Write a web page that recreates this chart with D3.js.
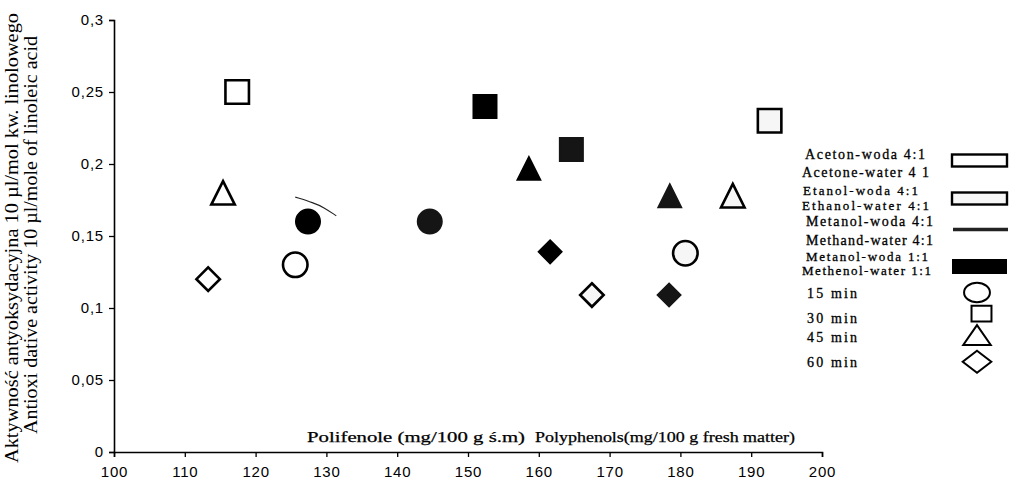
<!DOCTYPE html>
<html>
<head>
<meta charset="utf-8">
<script src="https://cdn.jsdelivr.net/npm/d3@7"></script>
<style>
  html, body { margin: 0; padding: 0; background: #fff; }
  svg { display: block; }
</style>
</head>
<body>
<svg id="chart" width="1010" height="486"></svg>
<script>
// solvents and extraction times
const solvents = ['acetone', 'ethanol', 'meth41', 'meth11']
const times = ['15 min', '30 min', '45 min', '60 min']

// polyphenols (x) and antioxidative activity (y), order: 15, 30, 45, 60 min
const acetoneX = [125.6, 117.4, 115.4, 113.3]
const acetoneY = [0.13, 0.25, 0.18, 0.12]
const ethanolX = [180.7, 192.6, 187.4, 167.5]
const ethanolY = [0.138, 0.23, 0.178, 0.109]
const meth41X = [144.6, 164.6, 178.5, 178.4]
const meth41Y = [0.16, 0.21, 0.178, 0.109]
const meth11X = [127.4, 152.4, 158.6, 161.6]
const meth11Y = [0.16, 0.24, 0.197, 0.139]

const xTicks = [100, 110, 120, 130, 140, 150, 160, 170, 180, 190, 200]
const yTicks = [0, 0.05, 0.1, 0.15, 0.2, 0.25, 0.3]

// stray pen stroke on the scanned original
const strokeX = [125.6, 128.2, 129.6, 131.4]
const strokeY = [0.177, 0.173, 0.170, 0.164]

const legendSolvents = [
  ['Aceton-woda 4:1', 'Acetone-water 4 1'],
  ['Etanol-woda 4:1', 'Ethanol-water 4:1'],
  ['Metanol-woda 4:1', 'Methand-water 4:1'],
  ['Metanol-woda 1:1', 'Methenol-water 1:1']
]

const seriesX = { acetone: acetoneX, ethanol: ethanolX, meth41: meth41X, meth11: meth11X }
const seriesY = { acetone: acetoneY, ethanol: ethanolY, meth41: meth41Y, meth11: meth11Y }

const fills = { acetone: '#fff', ethanol: '#f6f6f6', meth41: '#151515', meth11: '#000' }

const points = []
solvents.forEach(s => {
  times.forEach((t, i) => {
    points.push({ solvent: s, time: i, x: seriesX[s][i], y: seriesY[s][i] })
  })
})

const svg = d3.select('#chart')
svg.append('rect').attr('width', 1010).attr('height', 486).attr('fill', '#fff')

const x = d3.scaleLinear().domain([100, 200]).range([114, 822])
const y = d3.scaleLinear().domain([0, 0.3]).range([452, 20])

const tickFont = '"Liberation Sans", Arial, sans-serif'
const serif = '"Liberation Serif", "Times New Roman", serif'

// axes
const xAxis = svg.append('g')
  .attr('transform', `translate(0,${y(0)})`)
  .call(d3.axisBottom(x).tickValues(xTicks).tickSize(5).tickFormat(d3.format('d')))
const yAxis = svg.append('g')
  .attr('transform', `translate(${x(100)},0)`)
  .call(d3.axisLeft(y).tickValues(yTicks).tickSize(5)
    .tickFormat(d => d === 0 ? '0' : String(d).replace('.', ',')))

;[xAxis, yAxis].forEach(a => {
  a.select('.domain').attr('stroke', '#000').attr('stroke-width', 1.6)
  a.selectAll('.tick line').attr('stroke', '#000').attr('stroke-width', 1.3)
  a.selectAll('.tick text')
    .attr('font-family', tickFont)
    .attr('font-size', 15)
    .attr('letter-spacing', 0.8)
    .attr('fill', '#000')
})
xAxis.selectAll('.tick text').attr('dy', '0.71em').attr('y', 14)
yAxis.selectAll('.tick text').attr('x', -10)

// y-axis title, two lines
const yTitle = svg.append('g')
  .attr('font-family', serif)
  .attr('font-size', 18)
  .attr('fill', '#000')
  .attr('text-anchor', 'middle')
yTitle.append('text')
  .attr('transform', 'translate(18,238) rotate(-90)')
  .attr('textLength', 450)
  .attr('lengthAdjust', 'spacingAndGlyphs')
  .text('Aktywność antyoksydacyjna 10 µl/mol kw. linolowego')
yTitle.append('text')
  .attr('transform', 'translate(37,235) rotate(-90)')
  .attr('textLength', 398)
  .attr('lengthAdjust', 'spacingAndGlyphs')
  .text('Antioxi dative activity 10 µl/mole of linoleic acid')

// x-axis titles inside the plot
svg.append('text')
  .attr('x', 307).attr('y', 442)
  .attr('font-family', serif).attr('font-size', 14.5)
  .attr('stroke', '#000').attr('stroke-width', 0.25)
  .attr('textLength', 218).attr('lengthAdjust', 'spacingAndGlyphs')
  .text('Polifenole (mg/100 g ś.m)')
svg.append('text')
  .attr('x', 535).attr('y', 442)
  .attr('font-family', serif).attr('font-size', 14.5)
  .attr('stroke', '#000').attr('stroke-width', 0.25)
  .attr('textLength', 260).attr('lengthAdjust', 'spacingAndGlyphs')
  .text('Polyphenols(mg/100 g fresh matter)')

// marker shapes, centred on 0,0
function shapePath (t, s) {
  const h = s / 2
  if (t === 0) {
    return d3.arc()({ innerRadius: 0, outerRadius: h * 0.98, startAngle: 0, endAngle: 2 * Math.PI })
  }
  if (t === 1) return `M${-h},${-h}H${h}V${h}H${-h}Z`
  if (t === 2) return `M0,${-h}L${h},${h}H${-h}Z`
  return `M0,${-h}L${h},0L0,${h}L${-h},0Z`
}

svg.append('path')
  .datum(strokeX.map((d, i) => [d, strokeY[i]]))
  .attr('fill', 'none')
  .attr('stroke', '#222')
  .attr('stroke-width', 1.1)
  .attr('d', d3.line().x(d => x(d[0])).y(d => y(d[1])).curve(d3.curveBasis))

svg.append('g')
  .selectAll('path')
  .data(points)
  .join('path')
  .attr('transform', d => `translate(${x(d.x)},${y(d.y)})`)
  .attr('d', d => shapePath(d.time, d.time === 0 ? 25 : 23.5))
  .attr('fill', d => fills[d.solvent])
  .attr('stroke', d => d.solvent === 'meth41' ? '#151515' : '#000')
  .attr('stroke-width', d => d.solvent === 'meth11' || d.solvent === 'meth41' ? 1.5 : 2.6)
  .attr('stroke-linejoin', 'miter')

// legend
const legend = svg.append('g')
  .attr('font-family', serif)
  .attr('font-size', 14)
  .attr('fill', '#000')
  .attr('stroke', '#000')
  .attr('stroke-width', 0.3)

const legendTextY = [[159, 177], [195, 210], [226, 245], [261, 275]]
const legendTextX = [[805, 802], [803, 802], [806, 806], [806, 802]]
const legendTextW = [[120, 127], [115, 127], [127, 127], [122, 129]]
legendSolvents.forEach((pair, i) => {
  pair.forEach((label, j) => {
    legend.append('text')
      .attr('x', legendTextX[i][j])
      .attr('y', legendTextY[i][j])
      .attr('font-size', i === 1 || i === 3 ? 13 : 14)
      .attr('textLength', legendTextW[i][j])
      .attr('lengthAdjust', 'spacing')
      .text(label)
  })
})

const swatchY = [160.5, 198.5, 229.5, 266.5]
solvents.forEach((s, i) => {
  if (s === 'meth41') {
    legend.append('line')
      .attr('x1', 953).attr('x2', 1008)
      .attr('y1', swatchY[i]).attr('y2', swatchY[i])
      .attr('stroke', '#222').attr('stroke-width', 3.5)
  } else {
    const hgt = s === 'meth11' ? 15 : 12
    legend.append('rect')
      .attr('x', 952).attr('y', swatchY[i] - hgt / 2)
      .attr('width', 55).attr('height', hgt)
      .attr('fill', fills[s])
      .attr('stroke', '#000')
      .attr('stroke-width', s === 'meth11' ? 0 : 2.4)
  }
})

const timeY = [298, 323, 342, 367]
const timeMarkY = [292.5, 313.7, 335, 361.7]
times.forEach((t, i) => {
  legend.append('text')
    .attr('x', 807).attr('y', timeY[i])
    .attr('textLength', 50)
    .attr('lengthAdjust', 'spacing')
    .text(t)
  const g = legend.append('g')
    .attr('transform', `translate(${i === 1 ? 981.5 : 977},${timeMarkY[i]}) scale(${i === 0 ? '1.2,0.9' : i === 1 ? '0.95,0.75' : i === 2 ? '1.25,0.9' : '1.3,1.0'})`)
  g.append('path')
    .attr('d', shapePath(i, i === 1 ? 21 : 22))
    .attr('fill', '#fff')
    .attr('stroke', '#000')
    .attr('stroke-width', 2)
    .attr('vector-effect', 'non-scaling-stroke')
})
</script>
</body>
</html>
